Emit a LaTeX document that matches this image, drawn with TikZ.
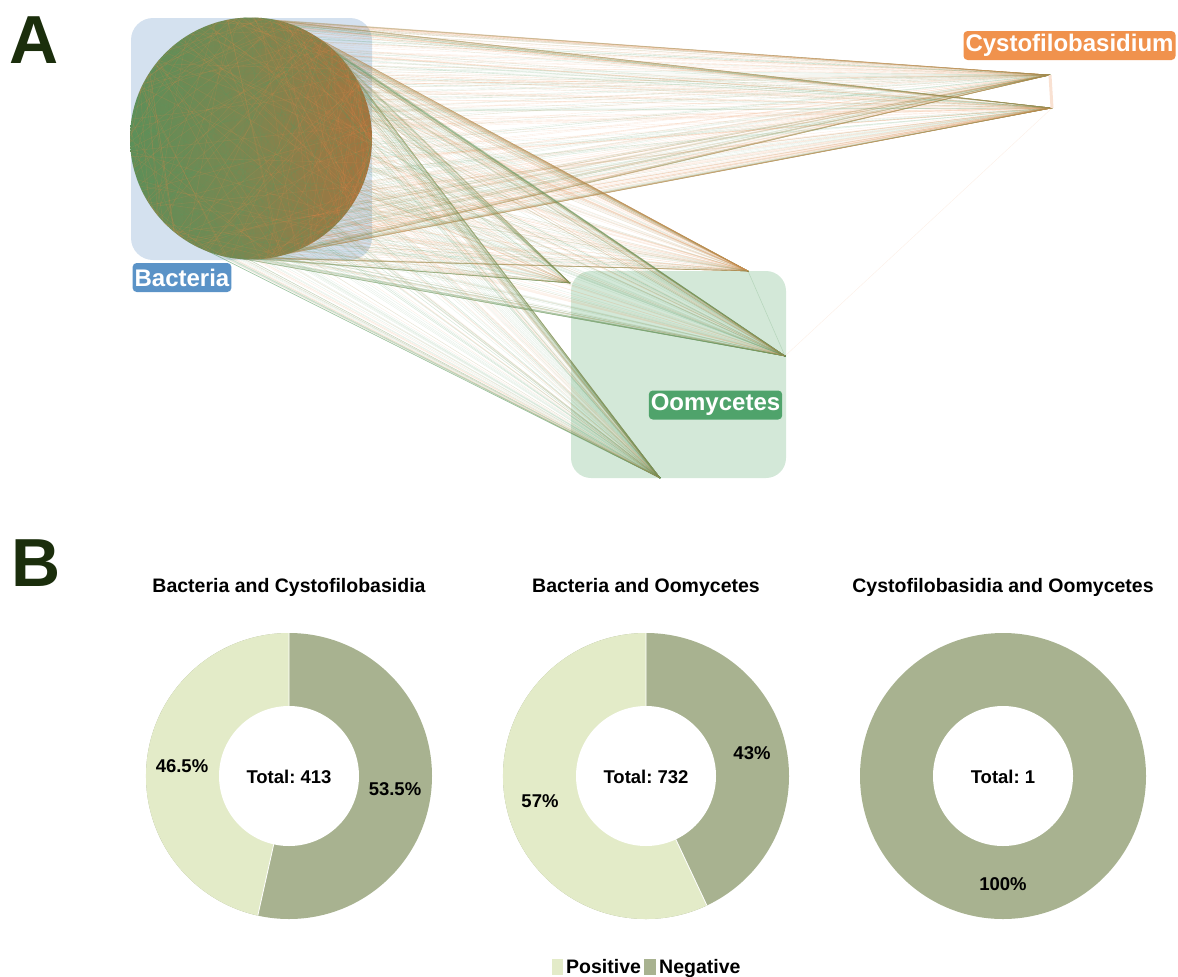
\documentclass[tikz,border=0pt]{standalone}
\usepackage{fontspec}
\setmainfont{Liberation Sans}
\usetikzlibrary{calc}
\definecolor{bactbox}{HTML}{D4E1EF}
\definecolor{bactlab}{HTML}{5B93C7}
\definecolor{oomybox}{HTML}{D3E8D8}
\definecolor{oomylab}{HTML}{4FA36B}
\definecolor{cystlab}{HTML}{F0924D}
\definecolor{eorange}{HTML}{E8894A}
\definecolor{egreen}{HTML}{5A9C62}
\definecolor{posc}{HTML}{E3EBC8}
\definecolor{negc}{HTML}{A8B290}
\definecolor{letterc}{HTML}{1B2E0C}
\definecolor{circg}{HTML}{5F8E58}
\definecolor{circm}{HTML}{7D8650}
\definecolor{circo}{HTML}{A5733E}
\newcommand\edgebundle[5]{%
  \foreach \i in {1,...,#2}{%
    \pgfmathsetmacro\aa{#4+rnd*(#5-#4)}%
    \pgfmathtruncatemacro\kk{rnd<#3}%
    \ifnum\kk=1 \def\cc{eorange}\else\def\cc{egreen}\fi
    \draw[edge,draw=\cc] ([shift={(\aa:120)}]bc) -- (#1);
  }}
\tikzset{
  edge/.style={line width=0.4pt, draw opacity=0.15},
  lab/.style={text=white, font=\fontsize{24}{28}\selectfont\bfseries, rounded corners=4pt, inner xsep=2pt, inner ysep=0pt, minimum height=29pt},
  title/.style={font=\fontsize{19.5}{22}\selectfont\bfseries, text=black},
  pct/.style={font=\fontsize{18.5}{22}\selectfont\bfseries, text=black},
  bigletter/.style={font=\fontsize{68}{70}\selectfont\bfseries, text=letterc},
}
\frenchspacing
\begin{document}
\begin{tikzpicture}[x=1pt,y=-1pt]
\useasboundingbox (0,0) rectangle (1178,977);
\pgfmathsetseed{20240}
% panel letters
\node[bigletter] (la) at (34,40) {A};
\node[bigletter] (lb) at (36,563) {B};
% group boxes
\fill[bactbox, rounded corners=22pt] (131,18) rectangle (372,260);
\fill[oomybox, rounded corners=20pt] (571,271) rectangle (786,478);
% nodes
\coordinate (bc) at (251,138.5);
\coordinate (c1) at (1050,75);
\coordinate (c2) at (1052,108);
\coordinate (o0) at (570,283);
\coordinate (o1) at (748,271);
\coordinate (o2) at (785,356);
\coordinate (o3) at (660,478);
% edge bundles
\edgebundle{c1}{170}{0.6}{-100}{80}
\edgebundle{c2}{170}{0.6}{-100}{90}
\edgebundle{o1}{160}{0.65}{-90}{100}
\edgebundle{o0}{110}{0.55}{-80}{110}
\edgebundle{o2}{160}{0.3}{-90}{110}
\edgebundle{o3}{170}{0.35}{-70}{120}
\draw[line width=3pt, draw=eorange!25] (c1) -- (c2);
\draw[line width=0.5pt, draw=eorange, draw opacity=0.12] (c2) -- (o2);
\draw[line width=0.5pt, draw=egreen, draw opacity=0.25] (o1) -- (o2);
% bacteria circle
\shade[left color=circg, right color=circo, middle color=circm] (bc) circle[radius=121];
\begin{scope}
\clip (bc) circle[radius=121];
\foreach \i in {1,...,350}{%
  \pgfmathsetmacro\aa{rnd*360}%
  \pgfmathsetmacro\bb{rnd*360}%
  \pgfmathtruncatemacro\kk{rnd<0.5}%
  \ifnum\kk=1 \def\cc{eorange}\else\def\cc{egreen}\fi
  \draw[line width=0.6pt, draw=\cc, draw opacity=0.18] ([shift={(\aa:121)}]bc) -- ([shift={(\bb:121)}]bc);
}
\end{scope}
% labels
\node[lab, fill=bactlab] (lbact) at (182,277.5) {Bacteria};
\node[lab, fill=cystlab] (lcyst) at (1069.5,45.5) {Cystofilobasidium};
\node[lab, fill=oomylab] (loomy) at (715.5,405) {Oomycetes};
% donut 1
\coordinate (d1) at (289,776);
\fill[negc] (d1) circle[radius=143];
\fill[posc] (d1) -- ([shift={(102.6:143)}]d1) arc[start angle=102.6, end angle=270, radius=143] -- cycle;
\draw[white, line width=0.8pt] (d1) -- ([shift={(102.6:143)}]d1) (d1) -- ([shift={(-90:143)}]d1);
\fill[white] (d1) circle[radius=70];
\node[title] (t1) at (289,587) {Bacteria and Cystofilobasidia};
\node[pct] (p1a) at (182,766) {46.5\%};
\node[pct] (p1b) at (395,789) {53.5\%};
\node[pct] (tot1) at (289,777) {Total: 413};
% donut 2
\coordinate (d2) at (646,776);
\fill[negc] (d2) circle[radius=143];
\fill[posc] (d2) -- ([shift={(64.8:143)}]d2) arc[start angle=64.8, end angle=270, radius=143] -- cycle;
\draw[white, line width=0.8pt] (d2) -- ([shift={(64.8:143)}]d2) (d2) -- ([shift={(-90:143)}]d2);
\fill[white] (d2) circle[radius=70];
\node[title] (t2) at (646,587) {Bacteria and Oomycetes};
\node[pct] (p2a) at (540,801) {57\%};
\node[pct] (p2b) at (752,753) {43\%};
\node[pct] (tot2) at (646,777) {Total: 732};
% donut 3
\coordinate (d3) at (1003,776);
\fill[negc] (d3) circle[radius=143];
\fill[white] (d3) circle[radius=70];
\node[title] (t3) at (1003,587) {Cystofilobasidia and Oomycetes};
\node[pct] (p3a) at (1003,884) {100\%};
\node[pct] (tot3) at (1003,777) {Total: 1};
% legend
\fill[posc] (552,959) rectangle (563,975);
\node[title, anchor=base west, inner sep=0pt] (lpos) at (566,973) {Positive};
\fill[negc] (644,959) rectangle (656,975);
\node[title, anchor=base west, inner sep=0pt] (lneg) at (659,973) {Negative};
\end{tikzpicture}
\end{document}
